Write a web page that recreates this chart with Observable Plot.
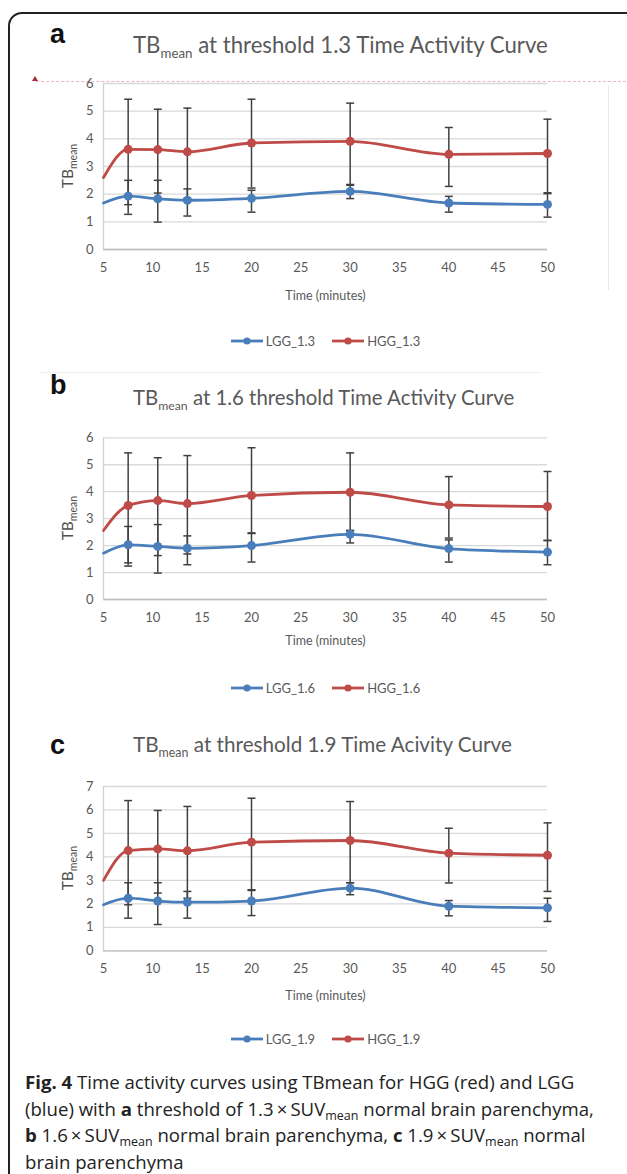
<!DOCTYPE html>
<html>
<head>
<meta charset="utf-8">
<script src="https://cdn.jsdelivr.net/npm/d3@7"></script>
<script src="https://cdn.jsdelivr.net/npm/@observablehq/plot@0.6"></script>
<style>
  html, body { margin: 0; padding: 0; background: #fff; }
  #fig { position: relative; width: 627px; height: 1174px; overflow: hidden; font-family: Lato, sans-serif; }
  .abs { position: absolute; }
  .letter { font-family: "Liberation Sans", Arial, sans-serif; font-weight: bold; font-size: 27px; color: #111; }
  .title { font-family: Lato, sans-serif; font-size: 21.5px; color: #595959; white-space: nowrap; }
  .title sub { font-size: 0.6em; vertical-align: -5px; }
  .legend { display: flex; justify-content: center; gap: 16px; font-family: Lato, sans-serif; font-size: 13px; color: #595959; }
  .legend span { display: flex; align-items: center; gap: 2px; }
  .caption { font-family: "Open Sans", sans-serif; font-size: 18.6px; color: #222; line-height: 26.5px; white-space: nowrap; }
  .caption sub { font-size: 12.5px; vertical-align: -4px; line-height: 0; }
</style>
</head>
<body>
<div id="fig"></div>
<script>
// ---------- data ----------
const times = [7.5, 10.5, 13.5, 20, 30, 40, 50];
const startTime = 5;

// panel a : threshold 1.3
const hgg13 = [3.62, 3.61, 3.53, 3.85, 3.91, 3.44, 3.47];
const hgg13Lo = [1.62, 2.04, 1.85, 2.22, 2.35, 2.28, 2.05];
const hgg13Hi = [5.43, 5.07, 5.11, 5.43, 5.29, 4.41, 4.71];
const lgg13 = [1.93, 1.83, 1.78, 1.85, 2.10, 1.68, 1.63];
const lgg13Lo = [1.27, 0.99, 1.21, 1.35, 1.84, 1.35, 1.17];
const lgg13Hi = [2.50, 2.50, 2.19, 2.14, 2.32, 1.92, 2.02];
const start13 = { hgg: 2.6, lgg: 1.68 };

// panel b : threshold 1.6
const hgg16 = [3.49, 3.67, 3.56, 3.86, 3.98, 3.51, 3.45];
const hgg16Lo = [1.36, 1.63, 1.69, 2.45, 2.56, 2.28, 2.19];
const hgg16Hi = [5.44, 5.26, 5.34, 5.63, 5.44, 4.56, 4.75];
const lgg16 = [2.03, 1.97, 1.90, 2.00, 2.42, 1.89, 1.76];
const lgg16Lo = [1.24, 0.98, 1.29, 1.39, 2.10, 1.39, 1.29];
const lgg16Hi = [2.71, 2.78, 2.36, 2.47, 2.56, 2.21, 2.19];
const start16 = { hgg: 2.56, lgg: 1.72 };

// panel c : threshold 1.9
const hgg19 = [4.27, 4.34, 4.26, 4.63, 4.70, 4.16, 4.07];
const hgg19Lo = [1.96, 2.46, 2.24, 2.60, 2.90, 2.89, 2.53];
const hgg19Hi = [6.40, 5.98, 6.15, 6.50, 6.36, 5.22, 5.45];
const lgg19 = [2.24, 2.12, 2.07, 2.12, 2.67, 1.90, 1.83];
const lgg19Lo = [1.39, 1.12, 1.39, 1.50, 2.39, 1.49, 1.25];
const lgg19Hi = [2.90, 2.90, 2.53, 2.57, 2.90, 2.14, 2.24];
const start19 = { hgg: 3.0, lgg: 1.96 };

const xTicks = [5, 10, 15, 20, 25, 30, 35, 40, 45, 50];
const yTicks6 = [0, 1, 2, 3, 4, 5, 6];
const yTicks7 = [0, 1, 2, 3, 4, 5, 6, 7];

const BLUE = "#4a7ebb";
const RED = "#be4b48";
const ERR = "#404040";

// ---------- layout ----------
const fig = document.getElementById("fig");

function el(tag, cls, style, html) {
  const e = document.createElement(tag);
  if (cls) e.className = cls;
  Object.assign(e.style, style || {});
  if (html != null) e.innerHTML = html;
  fig.appendChild(e);
  return e;
}

// outer frame
el("div", "abs", { left: "8px", top: "12px", width: "700px", height: "1200px", border: "2px solid #222", borderRadius: "14px" });

const capSymbol = { draw(ctx) { ctx.moveTo(-4, 0); ctx.lineTo(4, 0); } };

function panel(cfg) {
  const rows = (vals, lo, hi, series) =>
    times.map((t, i) => ({ t, v: vals[i], lo: lo[i], hi: hi[i], series }));
  const H = rows(cfg.hgg, cfg.hggLo, cfg.hggHi, "HGG");
  const L = rows(cfg.lgg, cfg.lggLo, cfg.lggHi, "LGG");
  const Hline = [{ t: startTime, v: cfg.start.hgg }, ...H];
  const Lline = [{ t: startTime, v: cfg.start.lgg }, ...L];
  const all = [...L, ...H];

  const marginLeft = 103, marginRight = 53, marginBottom = 61;
  const chart = Plot.plot({
    width: 600,
    height: cfg.height,
    marginLeft, marginRight, marginTop: cfg.marginTop, marginBottom,
    style: { fontFamily: "Lato, sans-serif", fontSize: "13px", color: "#595959", background: "transparent", overflow: "visible" },
    x: { domain: [5, 50], ticks: xTicks, tickSize: 0, tickPadding: 13, label: null, tickFormat: d => String(d) },
    y: { domain: [0, cfg.yMax], ticks: cfg.yTicks, tickSize: 0, tickPadding: 10, label: null, tickFormat: d => String(d) },
    marks: [
      Plot.gridY(cfg.yTicks, { stroke: "#d9d9d9", strokeOpacity: 1, strokeWidth: 1.3 }),
      Plot.ruleY([0], { stroke: "#bfbfbf", strokeWidth: 1.3 }),
      Plot.ruleX([5], { stroke: "#d0d0d0", strokeWidth: 1.3 }),
      Plot.line(Lline, { x: "t", y: "v", stroke: BLUE, strokeWidth: 2.8, curve: "monotone-x" }),
      Plot.line(Hline, { x: "t", y: "v", stroke: RED, strokeWidth: 2.8, curve: "monotone-x" }),
      Plot.ruleX(all, { x: "t", y1: "lo", y2: "hi", stroke: ERR, strokeWidth: 1.5 }),
      Plot.dot(all, { x: "t", y: "lo", symbol: capSymbol, stroke: ERR, fill: "none", strokeWidth: 1.5, r: 4 }),
      Plot.dot(all, { x: "t", y: "hi", symbol: capSymbol, stroke: ERR, fill: "none", strokeWidth: 1.5, r: 4 }),
      Plot.dot(L, { x: "t", y: "v", fill: BLUE, r: 4.5 }),
      Plot.dot(H, { x: "t", y: "v", fill: RED, r: 4.5 }),
      Plot.text(["Time (minutes)"], { frameAnchor: "bottom", dy: cfg.labelDy, fontSize: 12.5, fill: "#595959", lineAnchor: "middle" })
    ]
  });
  chart.style.position = "absolute";
  chart.style.left = "0px";
  chart.style.top = cfg.top + "px";
  fig.appendChild(chart);

  // y-axis label with subscript
  const innerMid = cfg.marginTop + (cfg.height - cfg.marginTop - marginBottom) / 2;
  const t = d3.select(chart).append("text")
    .attr("transform", `translate(73,${innerMid}) rotate(-90)`)
    .attr("text-anchor", "middle")
    .attr("fill", "#505050")
    .attr("font-family", "Lato, sans-serif")
    .attr("font-size", 15.5);
  t.append("tspan").text("TB");
  t.append("tspan").attr("font-size", 10.5).attr("dy", 4).text("mean");

  // panel letter and title
  el("div", "abs letter", { left: "50px", top: (cfg.letterY - 16) + "px" }, cfg.letter);
  el("div", "abs title", { left: "133px", top: (cfg.titleY - 15) + "px", fontSize: cfg.titleSize + "px" }, cfg.title);

  // legend
  const sw = c => `<svg width="34" height="10"><line x1="1" x2="33" y1="5" y2="5" stroke="${c}" stroke-width="2.8"/><circle cx="17" cy="5" r="3.6" fill="${c}"/></svg>`;
  el("div", "abs legend", { left: "0px", width: "650px", top: (cfg.legendY - 8) + "px" },
    `<span>${sw(BLUE)}LGG_${cfg.thr}</span><span>${sw(RED)}HGG_${cfg.thr}</span>`);
}

// decorative artifacts of the original figure
el("div", "abs", { left: "36px", top: "81px", width: "600px", height: "0", borderTop: "1.3px dashed #f2b3c2" });
el("div", "abs", { left: "32px", top: "76px", width: "0", height: "0", borderLeft: "3px solid transparent", borderRight: "3px solid transparent", borderBottom: "5px solid #b0243c" });
el("div", "abs", { left: "608px", top: "86px", width: "0", height: "204px", borderLeft: "1px solid #e6e6e6" });
el("div", "abs", { left: "40px", top: "372px", width: "500px", height: "0", borderTop: "1px solid #eeeeee" });

panel({
  letter: "a", letterY: 35, titleY: 46, titleSize: 22.2, thr: "1.3",
  title: "TB<sub>mean</sub> at threshold 1.3 Time Activity Curve",
  top: 60, marginTop: 23, height: 250, yMax: 6, yTicks: yTicks6, labelDy: 46, legendY: 341,
  hgg: hgg13, hggLo: hgg13Lo, hggHi: hgg13Hi, lgg: lgg13, lggLo: lgg13Lo, lggHi: lgg13Hi, start: start13
});
panel({
  letter: "b", letterY: 386, titleY: 400, titleSize: 20.4, thr: "1.6",
  title: "TB<sub>mean</sub> at 1.6 threshold Time Activity Curve",
  top: 420, marginTop: 17.3, height: 240, yMax: 6, yTicks: yTicks6, labelDy: 41, legendY: 688,
  hgg: hgg16, hggLo: hgg16Lo, hggHi: hgg16Hi, lgg: lgg16, lggLo: lgg16Lo, lggHi: lgg16Hi, start: start16
});
panel({
  letter: "c", letterY: 746, titleY: 747, titleSize: 20.7, thr: "1.9",
  title: "TB<sub>mean</sub> at threshold 1.9 Time Acivity Curve",
  top: 770, marginTop: 16, height: 241.3, yMax: 7, yTicks: yTicks7, labelDy: 45, legendY: 1039,
  hgg: hgg19, hggLo: hgg19Lo, hggHi: hgg19Hi, lgg: lgg19, lggLo: lgg19Lo, lggHi: lgg19Hi, start: start19
});

// caption
el("div", "abs caption", { left: "25px", top: "1069px" },
  "<b>Fig. 4</b> Time activity curves using TBmean for HGG (red) and LGG<br>" +
  "(blue) with <b>a</b> threshold of 1.3\u2009×\u2009SUV<sub>mean</sub> normal brain parenchyma,<br>" +
  "<b>b</b> 1.6\u2009×\u2009SUV<sub>mean</sub> normal brain parenchyma, <b>c</b> 1.9\u2009×\u2009SUV<sub>mean</sub> normal<br>" +
  "brain parenchyma");
</script>
</body>
</html>
